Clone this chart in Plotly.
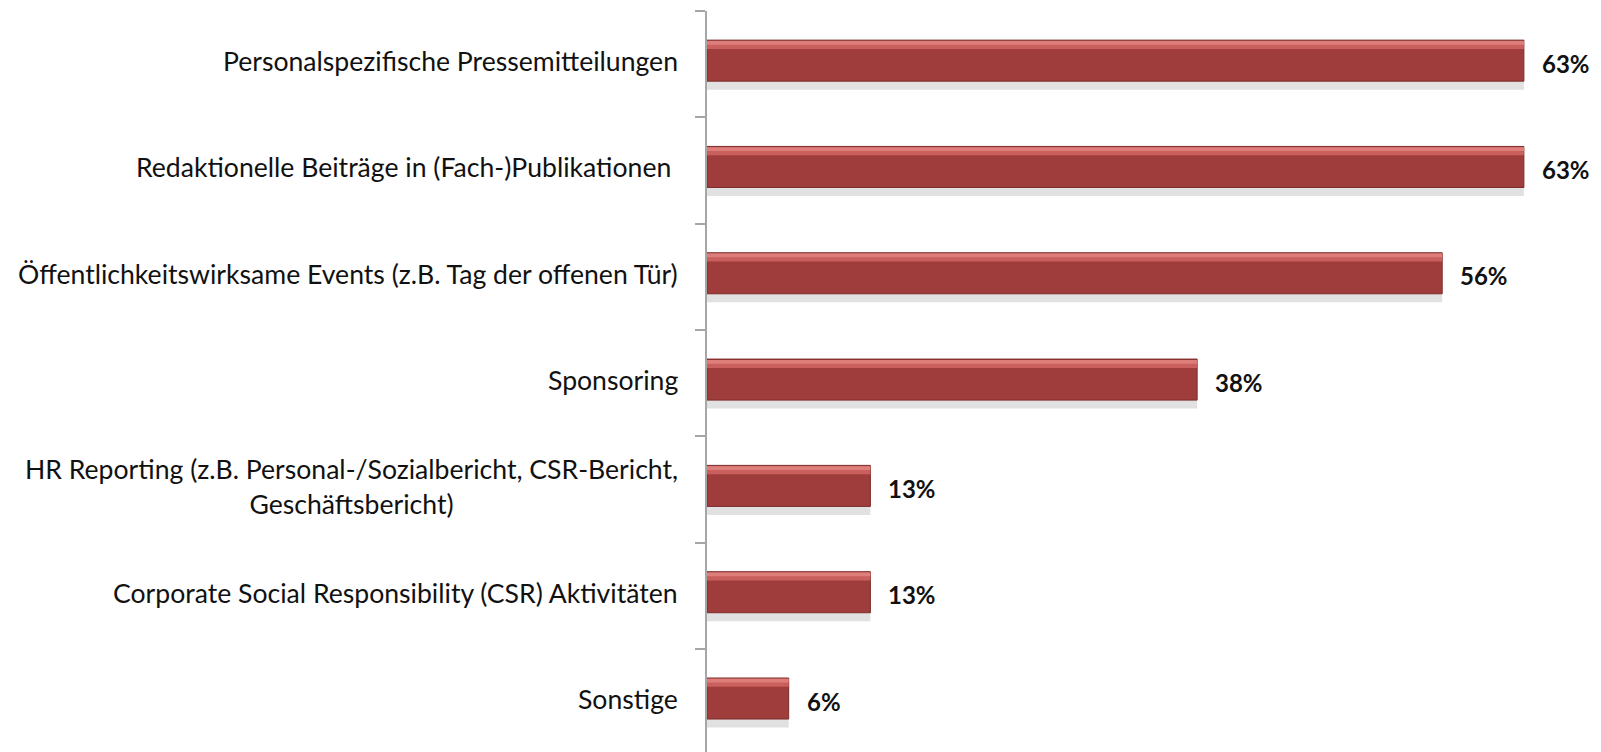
import plotly.graph_objects as go

categories = [
    "Personalspezifische Pressemitteilungen",
    "Redaktionelle Beiträge in (Fach-)Publikationen\u00a0",
    "Öffentlichkeitswirksame Events (z.B. Tag der offenen Tür)",
    "Sponsoring",
    "HR Reporting (z.B. Personal-/Sozialbericht, CSR-Bericht,<br>Geschäftsbericht)",
    "Corporate Social Responsibility (CSR) Aktivitäten",
    "Sonstige",
]
values = [62.5, 62.5, 56.25, 37.5, 12.5, 12.5, 6.25]
value_labels = ["63%", "63%", "56%", "38%", "13%", "13%", "6%"]

FONT = "Lato, 'Open Sans', sans-serif"

fig = go.Figure()
# shadow
fig.add_trace(go.Bar(
    x=values, y=categories, orientation="h",
    width=0.40, offset=-0.16,
    marker=dict(color="rgba(120,120,120,0.22)", line=dict(width=0)),
    hoverinfo="skip", showlegend=False,
))
# main bar
fig.add_trace(go.Bar(
    x=values, y=categories, orientation="h",
    width=0.386, offset=-0.226,
    marker=dict(color="#9e3d3b", line=dict(color="#7d2c2b", width=1)),
    showlegend=False,
))
# top highlight (bevel)
fig.add_trace(go.Bar(
    x=values, y=categories, orientation="h",
    width=0.075, offset=-0.218,
    marker=dict(color="#c9605d", line=dict(width=0)),
    hoverinfo="skip", showlegend=False,
))
fig.add_trace(go.Bar(
    x=values, y=categories, orientation="h",
    width=0.035, offset=-0.218,
    marker=dict(color="#dd7e7b", line=dict(width=0)),
    hoverinfo="skip", showlegend=False,
))

annotations = []
for c in categories:
    annotations.append(dict(
        x=0, xref="paper", y=c, yref="y", text=c, showarrow=False,
        xanchor="right", yanchor="middle", align="center",
        font=dict(family=FONT, size=26.6, color="#111111"),
        xshift=-27, yshift=3,
    ))
for c, v, t in zip(categories, values, value_labels):
    annotations.append(dict(
        x=v, xref="x", y=c, yref="y", text="<b>" + t + "</b>", showarrow=False,
        xanchor="left", yanchor="middle",
        font=dict(family=FONT, size=24, color="#111111"),
        xshift=16, yshift=1,
    ))

fig.update_layout(
    width=1593, height=744,
    margin=dict(l=699, r=0, t=3, b=0, autoexpand=False),
    paper_bgcolor="white", plot_bgcolor="white",
    barmode="overlay",
    annotations=annotations,
    xaxis=dict(range=[0, 68.4], showgrid=False, zeroline=False,
               showticklabels=False, showline=False, ticks=""),
    yaxis=dict(type="category", categoryorder="array", categoryarray=categories,
               range=[6.47, -0.5], showgrid=False, zeroline=False,
               showticklabels=False, showline=True, linecolor="#a6a6a6", linewidth=2,
               ticks="outside", ticklen=10, tickcolor="#a6a6a6", tickwidth=2,
               tickson="boundaries"),
)
fig.write_html("out.html")
